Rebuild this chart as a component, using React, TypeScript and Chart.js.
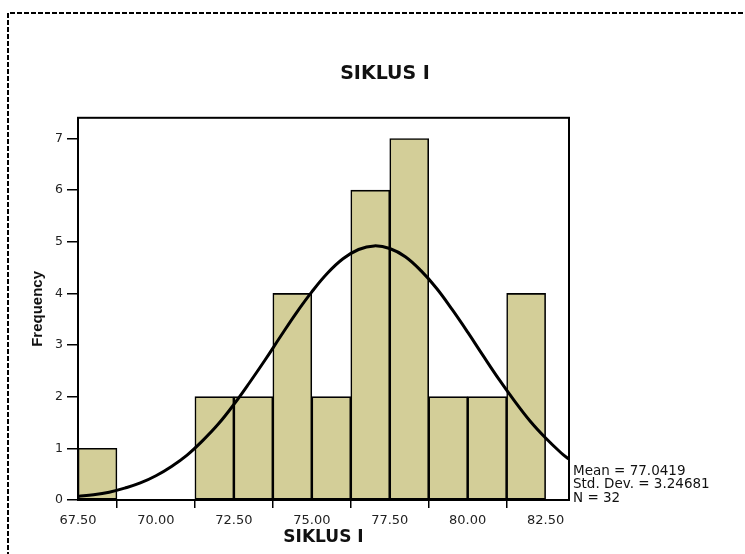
import React, { useEffect, useRef } from "react";
import { Chart, registerables } from "chart.js";

Chart.register(...registerables);

// Histogram bins (bin width 1.25, centres) and frequencies
const binCenters = [68.125, 69.375, 70.625, 71.875, 73.125, 74.375, 75.625, 76.875, 78.125, 79.375, 80.625, 81.875];
const frequencies = [1, 0, 0, 2, 2, 4, 2, 6, 7, 2, 2, 4];

// Normal curve points
const curveX = [
  67.5, 68, 68.5, 69, 69.5, 70, 70.5, 71, 71.5, 72, 72.5, 73, 73.5, 74, 74.5, 75, 75.5,
  76, 76.5, 77, 77.5, 78, 78.5, 79, 79.5, 80, 80.5, 81, 81.5, 82, 82.5, 83, 83.25,
];
const curveY = [
  0.07, 0.1, 0.15, 0.23, 0.33, 0.47, 0.65, 0.87, 1.15, 1.47, 1.85, 2.27, 2.71, 3.17, 3.62, 4.03, 4.39,
  4.67, 4.85, 4.92, 4.87, 4.71, 4.44, 4.1, 3.69, 3.25, 2.79, 2.34, 1.92, 1.53, 1.2, 0.91, 0.79,
];

const xTickValues = [67.5, 70, 72.5, 75, 77.5, 80, 82.5];
const yTickValues = [0, 1, 2, 3, 4, 5, 6, 7];
const statsLines = ["Mean = 77.0419", "Std. Dev. = 3.24681", "N = 32"];

const chartTitle = "SIKLUS I";
const xTitle = "SIKLUS I";
const yTitle = "Frequency";

const SMALL_FONT = "'DejaVu Sans', sans-serif";
const BOLD_FONT = "'DejaVu Sans', sans-serif";
const LABEL_FONT = "'Liberation Sans', Arial, sans-serif";

const framePlugin = {
  id: "frameAndExtras",
  beforeDraw(chart: any) {
    const ctx = chart.ctx;
    ctx.save();
    ctx.fillStyle = "#ffffff";
    ctx.fillRect(0, 0, chart.width, chart.height);
    ctx.strokeStyle = "#000000";
    ctx.lineWidth = 2;
    ctx.setLineDash([5, 2]);
    ctx.beginPath();
    ctx.moveTo(8, chart.height + 10);
    ctx.lineTo(8, 13);
    ctx.lineTo(chart.width + 10, 13);
    ctx.stroke();
    ctx.restore();
  },
  afterDatasetsDraw(chart: any) {
    const { ctx, chartArea } = chart;
    ctx.save();
    ctx.strokeStyle = "#000000";
    ctx.lineWidth = 2;
    ctx.strokeRect(chartArea.left, chartArea.top, chartArea.right - chartArea.left, chartArea.bottom - chartArea.top);
    ctx.fillStyle = "#111111";
    ctx.font = `13.5px ${SMALL_FONT}`;
    ctx.textAlign = "left";
    ctx.textBaseline = "middle";
    const x = chartArea.right + 4;
    statsLines.forEach((line, i) => {
      ctx.fillText(line, x, chartArea.bottom - 29 + i * 13.5);
    });
    ctx.restore();
  },
};

export default function App() {
  const canvasRef = useRef<HTMLCanvasElement | null>(null);

  useEffect(() => {
    document.body.style.margin = "0";
    const canvas = canvasRef.current;
    if (!canvas) return;

    const barData = binCenters.map((x, i) => ({ x, y: frequencies[i] }));
    const lineData = curveX.map((x, i) => ({ x, y: curveY[i] }));

    const chart = new Chart(canvas, {
      type: "bar",
      data: {
        datasets: [
          {
            type: "line",
            data: lineData,
            borderColor: "#000000",
            borderWidth: 3,
            pointRadius: 0,
            tension: 0.4,
            fill: false,
            order: 0,
          } as any,
          {
            type: "bar",
            data: barData,
            backgroundColor: "rgb(211,206,152)",
            borderColor: "#000000",
            borderWidth: 1.6,
            borderSkipped: false,
            barPercentage: 1,
            categoryPercentage: 1,
            order: 1,
          } as any,
        ],
      },
      options: {
        animation: false,
        responsive: false,
        maintainAspectRatio: false,
        layout: { padding: { left: 25, right: 0, top: 0, bottom: 0 } },
        plugins: {
          legend: { display: false },
          tooltip: { enabled: false },
          title: {
            display: true,
            text: chartTitle,
            color: "#111111",
            font: { family: BOLD_FONT, size: 19, weight: "bold" },
            padding: { top: 63, bottom: 32 },
          },
        },
        scales: {
          x: {
            type: "linear",
            min: 67.5,
            max: 83.25,
            offset: false,
            afterBuildTicks: (scale: any) => {
              scale.ticks = xTickValues.map((v) => ({ value: v }));
            },
            afterFit: (scale: any) => {
              scale.height = 54;
            },
            ticks: {
              autoSkip: false,
              maxRotation: 0,
              color: "#222222",
              padding: 5,
              font: { family: SMALL_FONT, size: 13 },
              callback: (v: any) => Number(v).toFixed(2),
            },
            grid: {
              display: true,
              drawOnChartArea: false,
              drawTicks: true,
              tickLength: 8,
              color: "#000000",
              lineWidth: 1.5,
            },
            border: { display: false },
            title: {
              display: true,
              text: xTitle,
              color: "#111111",
              font: { family: BOLD_FONT, size: 17, weight: "bold" },
              padding: { top: 0, bottom: 6 },
            },
          },
          y: {
            type: "linear",
            min: 0,
            max: 7.4,
            afterBuildTicks: (scale: any) => {
              scale.ticks = yTickValues.map((v) => ({ value: v }));
            },
            afterFit: (scale: any) => {
              scale.width = 53;
            },
            ticks: {
              color: "#222222",
              padding: 4,
              font: { family: SMALL_FONT, size: 12.5 },
            },
            grid: {
              display: true,
              drawOnChartArea: false,
              drawTicks: true,
              tickLength: 11,
              color: "#000000",
              lineWidth: 1.5,
            },
            border: { display: false },
            title: {
              display: true,
              text: yTitle,
              color: "#111111",
              font: { family: LABEL_FONT, size: 15, weight: "bold" },
              padding: { top: 4, bottom: 0 },
            },
          },
          yRight: {
            type: "linear",
            position: "right",
            display: true,
            afterFit: (scale: any) => {
              scale.width = 176;
            },
            ticks: { display: false },
            grid: { display: false },
            border: { display: false },
          },
        },
      },
      plugins: [framePlugin],
    });

    return () => chart.destroy();
  }, []);

  return (
    <div style={{ position: "fixed", left: 0, top: 0, width: 745, height: 554, background: "#fff" }}>
      <canvas ref={canvasRef} width={745} height={554} style={{ width: 745, height: 554, display: "block" }} />
    </div>
  );
}
